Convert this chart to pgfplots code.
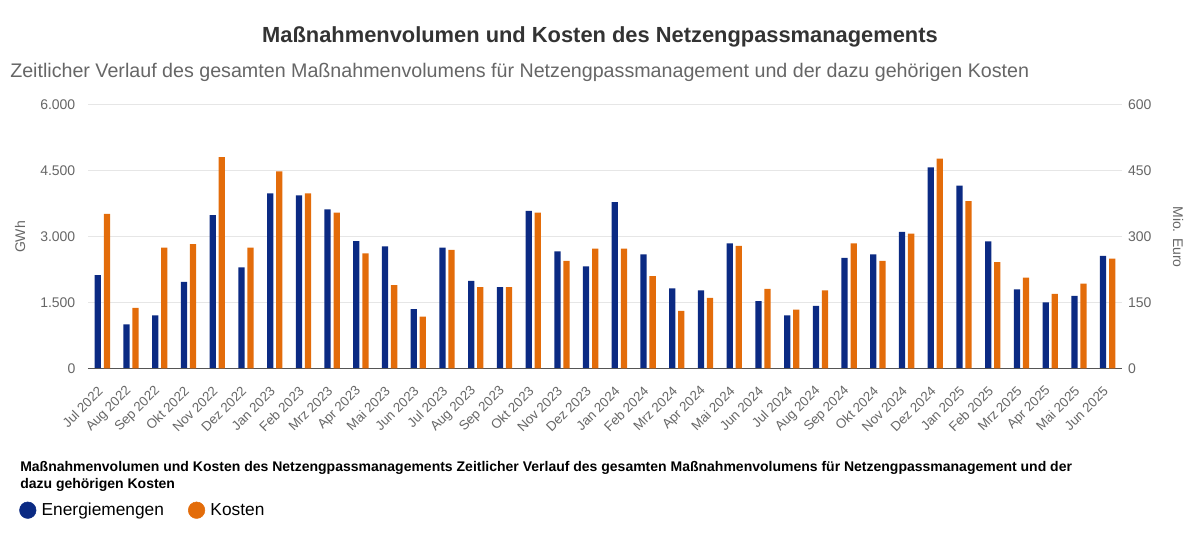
\documentclass[border=0pt]{standalone}
\usepackage{pgfplots}
\usepackage{pgfplotstable}
\pgfplotsset{compat=1.18}
\usepackage{fontspec}
\setmainfont{Liberation Sans}

\definecolor{navy}{HTML}{0B2A83}
\definecolor{orng}{HTML}{E36C0A}
\definecolor{titlegray}{HTML}{333333}
\definecolor{subgray}{HTML}{666666}
\definecolor{gridgray}{HTML}{E6E6E6}
\definecolor{basegray}{HTML}{555555}

% monthly values: volume in GWh, costs in Mio. Euro
\pgfplotstableread{
x gwh cost
0 2126 352
1 1003 138
2 1208 275
3 1973 283
4 3493 481
5 2301 275
6 3988 449
7 3942 399
8 3623 355
9 2901 262
10 2780 190
11 1351 118
12 2749 270
13 1996 185
14 1853 185
15 3591 355
16 2666 245
17 2324 273
18 3790 273
19 2598 210
20 1823 131
21 1777 161
22 2848 279
23 1534 181
24 1208 134
25 1427 178
26 2520 285
27 2598 245
28 3113 307
29 4580 478
30 4161 381
31 2894 242
32 1800 207
33 1504 170
34 1654 193
35 2566 250
}\data

\pgfplotsset{
  base/.style={
    at={(66pt,132.4pt)}, anchor=south west,
    scale only axis, width=775.5pt, height=197.6pt,
    xmin=-0.5, xmax=35.5,
    axis line style={draw=none},
    major tick length=0pt,
    ybar, bar width=4.7pt,
    tick label style={font=\fontsize{10.5}{12}\selectfont, text=subgray},
  },
}

\begin{document}
\begin{tikzpicture}
\path[use as bounding box] (0,0) rectangle (900pt,408.75pt);

\begin{axis}[base,
  ymin=0, ymax=6000,
  ytick={0,1500,3000,4500,6000},
  yticklabels={0,1.500,3.000,4.500,6.000},
  ytick pos=left,
  ymajorgrids, grid style={gridgray, line width=0.75pt},
  xtick={0,...,35}, xtick pos=bottom,
  xticklabels={Jul 2022,Aug 2022,Sep 2022,Okt 2022,Nov 2022,Dez 2022,
    Jan 2023,Feb 2023,Mrz 2023,Apr 2023,Mai 2023,Jun 2023,
    Jul 2023,Aug 2023,Sep 2023,Okt 2023,Nov 2023,Dez 2023,
    Jan 2024,Feb 2024,Mrz 2024,Apr 2024,Mai 2024,Jun 2024,
    Jul 2024,Aug 2024,Sep 2024,Okt 2024,Nov 2024,Dez 2024,
    Jan 2025,Feb 2025,Mrz 2025,Apr 2025,Mai 2025,Jun 2025},
  x tick label style={font=\fontsize{10}{12}\selectfont, xshift=1pt, yshift=-13pt, rotate=45, anchor=east},
  yticklabel style={xshift=-6pt},
]
\addplot[fill=navy, draw=none, bar shift=-3.4pt] table[x=x, y=gwh] {\data};
\draw[basegray, line width=0.75pt] (axis cs:-0.5,0) -- (axis cs:35.5,0);
\end{axis}

\begin{axis}[base,
  ymin=0, ymax=600,
  ytick={0,150,300,450,600},
  yticklabels={0,150,300,450,600},
  axis x line=none, axis y line*=right,
  yticklabel style={anchor=west, xshift=1pt},
  legend style={at={(-0.0706,-0.538)}, anchor=west, draw=none, fill=none,
    legend columns=2, font=\fontsize{13}{15}\selectfont,
    /tikz/every odd column/.append style={column sep=2pt},
    /tikz/every even column/.append style={column sep=16pt}},
  legend image code/.code={\fill (0pt,0pt) circle (6.2pt);},
]
\addlegendimage{navy, fill=navy}
\addlegendentry{Energiemengen}
\addlegendimage{orng, fill=orng}
\addlegendentry{Kosten}
\addplot[fill=orng, draw=none, bar shift=3.4pt] table[x=x, y=cost] {\data};
\end{axis}

\node[font=\bfseries\fontsize{16.4}{19}\selectfont, text=titlegray] at (450pt,381pt)
  {Maßnahmenvolumen und Kosten des Netzengpassmanagements};
\node[anchor=west, font=\fontsize{14.75}{18}\selectfont, text=subgray, inner sep=0pt] at (7.5pt,354.75pt)
  {Zeitlicher Verlauf des gesamten Maßnahmenvolumens für Netzengpassmanagement und der dazu gehörigen Kosten};
\node[rotate=90, font=\fontsize{10.5}{12}\selectfont, text=subgray] at (15pt,231pt) {GWh};
\node[rotate=-90, font=\fontsize{10.5}{12}\selectfont, text=subgray] at (883.5pt,231pt) {Mio. Euro};
\node[anchor=west, inner sep=0pt, font=\bfseries\fontsize{10.5}{12}\selectfont] at (15pt,57.75pt)
  {Maßnahmenvolumen und Kosten des Netzengpassmanagements Zeitlicher Verlauf des gesamten Maßnahmenvolumens für Netzengpassmanagement und der};
\node[anchor=west, inner sep=0pt, font=\bfseries\fontsize{10.5}{12}\selectfont] at (15pt,45pt)
  {dazu gehörigen Kosten};
\end{tikzpicture}
\end{document}
